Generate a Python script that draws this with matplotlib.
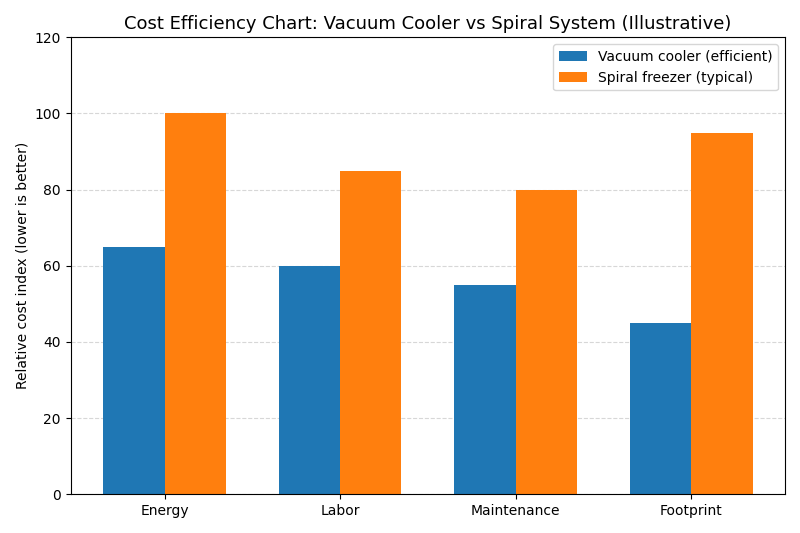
import matplotlib
matplotlib.use("Agg")
import matplotlib.pyplot as plt
import numpy as np

categories = ["Energy", "Labor", "Maintenance", "Footprint"]
vacuum = [65, 60, 55, 45]
spiral = [100, 85, 80, 95]
series_names = ["Vacuum cooler (efficient)", "Spiral freezer (typical)"]

fig, ax = plt.subplots(figsize=(8, 5.33), dpi=100)
x = np.arange(len(categories))
w = 0.35
ax.bar(x - w/2, vacuum, w, label=series_names[0], color="#1f77b4")
ax.bar(x + w/2, spiral, w, label=series_names[1], color="#ff7f0e")
ax.set_xticks(x)
ax.set_xticklabels(categories)
ax.set_ylim(0, 120)
ax.set_ylabel("Relative cost index (lower is better)")
ax.set_title("Cost Efficiency Chart: Vacuum Cooler vs Spiral System (Illustrative)", fontsize=13)
ax.yaxis.grid(True, linestyle="--", alpha=0.5)
ax.set_axisbelow(True)
ax.legend(loc="upper right")
fig.tight_layout()
fig.savefig("out.png", dpi=100)
